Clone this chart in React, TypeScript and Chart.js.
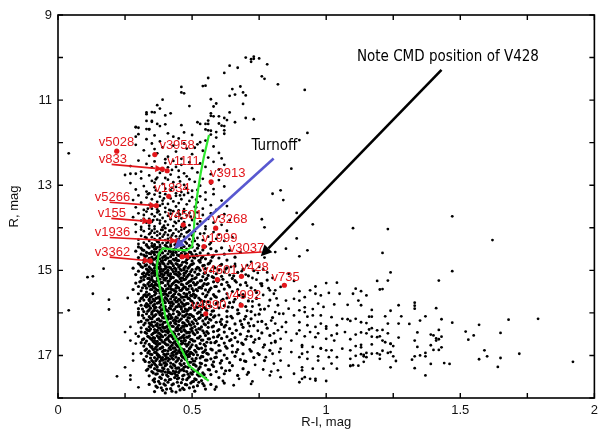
import React, { useEffect, useRef } from "react";
import { Chart, registerables } from "chart.js";

Chart.register(...registerables);

// ---------- axes ----------
const xTickValues = [0, 0.5, 1, 1.5, 2];
const yTickValues = [9, 11, 13, 15, 17];
const xMinorTickValues = [0, 0.25, 0.5, 0.75, 1, 1.25, 1.5, 1.75, 2];
const yMinorTickValues = [9, 10, 11, 12, 13, 14, 15, 16, 17, 18];

// ---------- photometry: flat pairs [R-I, R, R-I, R, ...] ----------
const giantBranch = [
  .70,10.00, .72,10.10, .72,10.04, .73,9.98, .73,10.03, .75,10.02, .78,10.16, .64,10.19, .67,10.24, .62,10.36,
  .76,10.44, .77,10.50, .82,10.63, .56,10.48, .54,10.67, .55,10.66, .65,10.74, .68,10.68, .46,10.69, .46,10.82,
  .47,10.84, .64,10.90, .66,10.87, .69,10.82, .70,10.89, .57,10.98, .39,10.99, .59,11.08, .69,11.09, .37,11.12,
  .58,11.15, .49,11.14, .38,11.20, .33,11.29, .35,11.28, .33,11.33, .36,11.29, .42,11.31, .40,11.36, .57,11.31,
  .57,11.37, .58,11.38, .60,11.38, .64,11.29, .62,11.42, .63,11.47, .70,11.42, .73,11.45, .33,11.49, .35,11.49,
  .35,11.51, .52,11.52, .53,11.56, .55,11.56, .56,11.48, .56,11.56, .37,11.56, .40,11.57, .46,11.59, .60,11.55,
  .66,11.52, .29,11.64, .30,11.65, .33,11.68, .34,11.69, .34,11.68, .38,11.61, .61,11.60, .62,11.61, .62,11.71,
  .55,11.69, .56,11.71, .57,11.72, .59,11.75, .92,10.76, .93,11.77, .90,11.94, .29,11.86, .29,11.63,
];

const subgiantBranch = [
  .30,11.80, .36,11.83, .41,11.78, .45,11.90, .50,11.82, .55,11.95, .59,11.88, .62,11.79, .38,11.97, .33,11.92, .47,11.76, .53,11.99, .57,11.81, .43,11.86,
  .29,12.05, .32,12.18, .35,12.02, .37,12.25, .39,12.11, .41,12.33, .43,12.07, .44,12.21, .46,12.38, .48,12.14, .50,12.27, .52,12.04,
  .54,12.19, .56,12.35, .58,12.09, .60,12.24, .61,12.37, .34,12.31, .40,12.39, .47,12.02, .51,12.12, .36,12.15,
  .27,12.55, .30,12.42, .31,12.68, .33,12.50, .34,12.77, .36,12.44, .37,12.62, .38,12.71, .40,12.48, .41,12.58, .42,12.75, .43,12.43,
  .45,12.66, .46,12.52, .48,12.79, .49,12.46, .50,12.60, .52,12.70, .53,12.49, .55,12.57, .57,12.74, .58,12.45, .60,12.63, .62,12.52,
  .35,12.58, .39,12.66, .44,12.57, .47,12.72,
  .27,12.95, .29,13.10, .31,12.84, .32,13.02, .33,13.15, .35,12.90, .36,13.05, .37,12.82, .38,13.18, .39,12.97, .40,13.08, .41,12.87,
  .42,13.12, .43,12.93, .44,13.04, .45,12.81, .46,13.16, .47,12.99, .48,13.07, .49,12.86, .50,13.13, .51,12.92, .53,13.01, .54,12.85,
  .55,13.17, .57,12.96, .58,13.09, .60,12.88, .62,13.03, .34,13.19, .36,12.94, .40,12.83, .44,13.19, .52,13.11,
  .28,13.35, .29,13.52, .30,13.24, .31,13.41, .32,13.58, .33,13.29, .34,13.46, .35,13.33, .35,13.55, .36,13.22, .37,13.39, .37,13.57,
  .38,13.27, .38,13.48, .39,13.36, .40,13.53, .40,13.21, .41,13.44, .42,13.31, .42,13.59, .43,13.38, .44,13.25, .44,13.50, .45,13.42,
  .46,13.33, .47,13.56, .47,13.23, .48,13.45, .49,13.37, .50,13.28, .51,13.51, .52,13.40, .53,13.26, .54,13.55, .55,13.34, .57,13.47,
  .58,13.21, .59,13.58, .61,13.36, .63,13.49, .45,13.59, .39,13.44,
  .28,13.75, .29,13.92, .30,13.66, .31,13.83, .31,13.98, .32,13.70, .33,13.88, .33,13.62, .34,13.79, .34,13.95, .35,13.68, .35,13.86,
  .36,13.73, .36,13.97, .37,13.64, .37,13.81, .38,13.90, .38,13.69, .39,13.77, .39,13.99, .40,13.63, .40,13.85, .41,13.72, .41,13.93,
  .42,13.67, .42,13.80, .43,13.96, .43,13.61, .44,13.74, .44,13.89, .45,13.66, .45,13.84, .46,13.78, .46,13.98, .47,13.62, .47,13.87,
  .48,13.71, .49,13.94, .49,13.65, .50,13.82, .51,13.76, .52,13.91, .52,13.64, .53,13.85, .54,13.70, .55,13.97, .56,13.79, .57,13.66,
  .58,13.88, .60,13.74, .61,13.93, .62,13.68, .64,13.82, .32,13.79, .38,13.83,
  .29,14.10, .30,14.28, .31,14.04, .31,14.19, .32,14.35, .32,14.08, .33,14.24, .33,14.39, .34,14.02, .34,14.15, .34,14.31, .35,14.07,
  .35,14.22, .35,14.37, .36,14.12, .36,14.27, .36,14.03, .37,14.18, .37,14.33, .37,14.09, .38,14.25, .38,14.40, .38,14.14, .39,14.05,
  .39,14.21, .39,14.36, .40,14.11, .40,14.29, .40,14.01, .41,14.17, .41,14.34, .42,14.06, .42,14.23, .42,14.38, .43,14.13, .43,14.30,
  .44,14.04, .44,14.20, .44,14.36, .45,14.09, .45,14.26, .46,14.15, .46,14.32, .47,14.02, .47,14.21, .48,14.11, .48,14.37, .49,14.27,
  .49,14.06, .50,14.18, .50,14.33, .51,14.08, .52,14.24, .52,14.39, .53,14.14, .54,14.29, .55,14.03, .56,14.21, .57,14.35, .58,14.10,
  .59,14.26, .60,14.16, .62,14.31, .63,14.07, .65,14.22, .30,14.38, .36,14.39, .41,14.26, .46,14.05, .51,14.31,
];

const subgiantCore = [
  .335,13.55, .355,13.82, .375,13.61, .395,13.95, .415,13.58, .435,13.86, .455,13.69, .475,13.99, .495,13.74, .515,13.52,
  .345,14.12, .365,14.29, .385,14.05, .405,14.36, .425,14.18, .445,14.28, .465,14.41, .485,14.09, .505,14.25, .525,14.42,
  .545,14.13, .325,14.22, .355,14.45, .375,14.34, .395,14.16, .415,14.07, .435,14.40, .455,14.20, .475,14.33, .565,14.39,
  .335,13.21, .365,13.12, .395,13.31, .425,13.06, .455,13.24, .485,13.18, .515,13.34, .365,12.86, .425,12.64, .455,12.91,
];

const mainSequenceUpper = [
  .29,14.55, .30,14.45, .30,14.70, .31,14.62, .31,14.48, .32,14.76, .32,14.53, .33,14.41, .33,14.66, .33,14.58, .34,14.47, .34,14.72,
  .34,14.60, .35,14.43, .35,14.56, .35,14.69, .35,14.78, .36,14.50, .36,14.63, .36,14.74, .36,14.42, .37,14.57, .37,14.68, .37,14.46,
  .37,14.79, .38,14.52, .38,14.64, .38,14.73, .38,14.44, .39,14.59, .39,14.70, .39,14.49, .39,14.77, .40,14.54, .40,14.66, .40,14.41,
  .40,14.75, .41,14.61, .41,14.47, .41,14.71, .42,14.56, .42,14.68, .42,14.43, .42,14.79, .43,14.51, .43,14.64, .43,14.74, .44,14.46,
  .44,14.58, .44,14.72, .45,14.53, .45,14.65, .45,14.42, .45,14.77, .46,14.60, .46,14.48, .46,14.70, .47,14.55, .47,14.67, .47,14.44,
  .48,14.62, .48,14.75, .48,14.50, .49,14.57, .49,14.69, .50,14.45, .50,14.63, .50,14.78, .51,14.54, .51,14.71, .52,14.48, .52,14.66,
  .53,14.59, .53,14.76, .54,14.52, .54,14.68, .55,14.44, .55,14.73, .56,14.61, .57,14.49, .57,14.78, .58,14.65, .59,14.55, .60,14.71,
  .61,14.47, .62,14.62, .63,14.76, .64,14.53, .66,14.69, .68,14.58, .32,14.64, .36,14.57, .43,14.58, .49,14.42,
  .28,14.95, .29,15.10, .30,14.84, .30,15.02, .31,15.17, .31,14.91, .32,15.06, .32,14.82, .32,15.14, .33,14.97, .33,15.09, .33,14.87,
  .34,15.03, .34,15.19, .34,14.92, .35,14.81, .35,15.07, .35,14.99, .35,15.15, .36,14.88, .36,15.01, .36,15.12, .36,14.95, .37,14.84,
  .37,15.08, .37,15.18, .37,14.93, .38,15.04, .38,14.86, .38,15.13, .38,14.98, .39,15.10, .39,14.83, .39,15.02, .39,15.16, .40,14.90,
  .40,15.06, .40,14.96, .40,15.19, .41,14.85, .41,15.11, .41,15.00, .42,14.94, .42,15.08, .42,15.15, .42,14.82, .43,15.03, .43,14.89,
  .43,15.17, .44,14.97, .44,15.09, .44,14.84, .45,15.05, .45,15.14, .45,14.92, .46,15.00, .46,14.87, .46,15.18, .47,15.07, .47,14.95,
  .47,15.12, .48,14.83, .48,15.02, .48,15.16, .49,14.91, .49,15.09, .50,14.98, .50,15.13, .50,14.86, .51,15.04, .51,15.19, .52,14.93,
  .52,15.10, .53,14.81, .53,15.00, .54,15.15, .54,14.89, .55,15.06, .55,14.96, .56,15.12, .56,14.85, .57,15.02, .58,15.17, .58,14.92,
  .59,15.08, .60,14.99, .61,15.14, .61,14.86, .62,15.04, .63,14.94, .64,15.11, .65,15.19, .66,14.90, .67,15.05, .69,14.97, .71,15.13,
  .73,15.01, .34,15.11, .38,14.91, .41,15.05, .44,15.02, .47,14.99, .36,15.07,
  .28,15.45, .29,15.30, .30,15.55, .30,15.38, .31,15.25, .31,15.48, .32,15.34, .32,15.59, .32,15.22, .33,15.42, .33,15.51, .34,15.28,
  .34,15.37, .34,15.56, .35,15.45, .35,15.21, .35,15.33, .36,15.50, .36,15.27, .36,15.41, .36,15.58, .37,15.35, .37,15.24, .37,15.47,
  .38,15.53, .38,15.31, .38,15.40, .38,15.21, .39,15.44, .39,15.57, .39,15.29, .40,15.36, .40,15.49, .40,15.23, .40,15.55, .41,15.32,
  .41,15.43, .41,15.26, .42,15.52, .42,15.38, .42,15.20, .43,15.46, .43,15.30, .43,15.58, .44,15.35, .44,15.24, .44,15.50, .45,15.41,
  .45,15.28, .45,15.56, .46,15.33, .46,15.47, .47,15.22, .47,15.39, .47,15.54, .48,15.31, .48,15.45, .49,15.26, .49,15.52, .49,15.37,
  .50,15.43, .50,15.21, .51,15.34, .51,15.58, .52,15.48, .52,15.29, .53,15.40, .53,15.25, .54,15.55, .54,15.36, .55,15.46, .55,15.22,
  .56,15.31, .56,15.51, .57,15.42, .58,15.27, .58,15.57, .59,15.38, .60,15.49, .60,15.23, .61,15.33, .62,15.44, .63,15.55, .63,15.28,
  .64,15.39, .65,15.50, .66,15.24, .67,15.45, .68,15.34, .69,15.57, .70,15.29, .72,15.41, .74,15.52, .76,15.36, .78,15.23, .36,15.35,
  .39,15.48, .42,15.44, .46,15.25, .48,15.56, .44,15.42,
  .29,15.75, .30,15.90, .31,15.66, .31,15.82, .32,15.97, .32,15.70, .33,15.86, .33,15.62, .33,15.78, .34,15.93, .34,15.68, .34,15.84,
  .35,15.74, .35,15.99, .35,15.61, .36,15.88, .36,15.72, .36,15.80, .37,15.65, .37,15.95, .37,15.77, .38,15.87, .38,15.63, .38,15.73,
  .38,15.98, .39,15.81, .39,15.69, .39,15.92, .40,15.76, .40,15.64, .40,15.85, .41,15.96, .41,15.71, .41,15.60, .42,15.83, .42,15.90,
  .42,15.67, .43,15.79, .43,15.94, .43,15.62, .44,15.74, .44,15.86, .45,15.68, .45,15.99, .45,15.80, .46,15.63, .46,15.91, .46,15.75,
  .47,15.84, .47,15.70, .48,15.96, .48,15.61, .48,15.78, .49,15.89, .49,15.66, .50,15.82, .50,15.73, .51,15.93, .51,15.64, .52,15.77,
  .52,15.87, .53,15.69, .53,15.98, .54,15.80, .55,15.62, .55,15.90, .56,15.74, .57,15.85, .57,15.67, .58,15.95, .59,15.78, .59,15.63,
  .60,15.88, .61,15.71, .62,15.83, .63,15.65, .63,15.96, .64,15.76, .65,15.87, .66,15.68, .67,15.93, .68,15.79, .69,15.62, .70,15.85,
  .71,15.72, .72,15.97, .74,15.66, .75,15.81, .77,15.91, .79,15.70, .36,15.94, .40,15.91, .44,15.64, .47,15.97, .50,15.60, .53,15.84,
  .34,15.71, .42,15.76, .38,15.67, .46,15.86,
];

const mainSequenceLower = [
  .30,16.05, .31,16.20, .31,16.35, .32,16.12, .32,16.28, .33,16.02, .33,16.17, .33,16.38, .34,16.09, .34,16.24, .34,16.33, .35,16.14,
  .35,16.03, .35,16.29, .36,16.21, .36,16.39, .36,16.07, .37,16.16, .37,16.31, .37,16.25, .38,16.04, .38,16.19, .38,16.36, .39,16.11,
  .39,16.27, .39,16.01, .40,16.22, .40,16.34, .40,16.08, .41,16.15, .41,16.30, .41,16.39, .42,16.06, .42,16.23, .42,16.13, .43,16.32,
  .43,16.18, .43,16.02, .44,16.26, .44,16.10, .44,16.37, .45,16.20, .45,16.05, .45,16.29, .46,16.14, .46,16.35, .47,16.09, .47,16.24,
  .47,16.40, .48,16.17, .48,16.03, .48,16.30, .49,16.12, .49,16.26, .50,16.36, .50,16.07, .50,16.21, .51,16.15, .51,16.32, .52,16.01,
  .52,16.25, .53,16.11, .53,16.38, .54,16.19, .54,16.06, .55,16.28, .55,16.14, .56,16.34, .56,16.23, .57,16.04, .57,16.17, .58,16.31,
  .58,16.10, .59,16.22, .60,16.39, .60,16.05, .61,16.27, .61,16.15, .62,16.33, .63,16.09, .63,16.21, .64,16.37, .65,16.12, .66,16.26,
  .67,16.02, .68,16.19, .69,16.34, .70,16.08, .71,16.24, .72,16.14, .73,16.30, .75,16.03, .76,16.20, .78,16.36, .80,16.11, .35,16.22,
  .38,16.28, .41,16.09, .44,16.19, .47,16.32, .39,16.33, .45,16.38, .49,16.04,
  .30,16.55, .31,16.45, .31,16.70, .32,16.61, .32,16.78, .33,16.48, .33,16.66, .34,16.57, .34,16.42, .34,16.74, .35,16.51, .35,16.63,
  .35,16.79, .36,16.46, .36,16.59, .36,16.70, .37,16.41, .37,16.54, .37,16.67, .37,16.77, .38,16.49, .38,16.62, .38,16.72, .39,16.44,
  .39,16.56, .39,16.68, .39,16.80, .40,16.52, .40,16.64, .40,16.43, .41,16.75, .41,16.58, .41,16.47, .42,16.69, .42,16.53, .42,16.79,
  .43,16.61, .43,16.45, .43,16.71, .44,16.56, .44,16.66, .44,16.41, .45,16.50, .45,16.76, .45,16.62, .46,16.44, .46,16.58, .46,16.73,
  .47,16.52, .47,16.65, .47,16.40, .48,16.78, .48,16.57, .48,16.47, .49,16.69, .49,16.54, .50,16.63, .50,16.43, .50,16.75, .51,16.51,
  .51,16.66, .52,16.59, .52,16.46, .53,16.72, .53,16.55, .54,16.64, .54,16.42, .55,16.78, .55,16.53, .56,16.61, .56,16.48, .57,16.70,
  .58,16.57, .58,16.44, .59,16.67, .60,16.52, .60,16.76, .61,16.60, .62,16.45, .62,16.71, .63,16.56, .64,16.65, .65,16.48, .65,16.77,
  .66,16.58, .67,16.68, .68,16.50, .69,16.74, .70,16.62, .71,16.43, .72,16.55, .73,16.69, .75,16.60, .76,16.47, .77,16.75, .79,16.53,
  .81,16.66, .36,16.65, .40,16.72, .43,16.51, .46,16.66, .49,16.46, .38,16.57, .44,16.74, .41,16.62, .47,16.59,
  .31,16.95, .32,17.10, .33,16.85, .33,17.02, .34,17.16, .34,16.90, .35,16.98, .35,17.12, .35,16.82, .36,17.05, .36,16.93, .36,17.19,
  .37,16.87, .37,17.08, .37,16.99, .38,17.14, .38,16.84, .38,17.03, .39,16.91, .39,17.11, .39,16.81, .40,17.00, .40,17.17, .40,16.88,
  .41,17.06, .41,16.96, .41,17.13, .42,16.86, .42,17.01, .42,17.18, .43,16.92, .43,17.09, .43,16.83, .44,17.04, .44,16.97, .44,17.15,
  .45,16.89, .45,17.07, .45,16.80, .46,17.00, .46,17.12, .46,16.94, .47,16.86, .47,17.05, .47,17.19, .48,16.98, .48,16.91, .48,17.10,
  .49,16.84, .49,17.02, .49,17.16, .50,16.95, .50,17.08, .51,16.88, .51,17.13, .52,16.99, .52,16.82, .53,17.06, .53,17.18, .54,16.93,
  .54,17.03, .55,16.87, .55,17.11, .56,16.97, .57,17.08, .57,16.85, .58,17.15, .59,16.94, .59,17.04, .60,16.89, .61,17.12, .62,16.99,
  .63,16.83, .63,17.07, .64,17.17, .65,16.92, .66,17.02, .67,16.86, .68,17.10, .69,16.96, .70,17.14, .72,16.90, .73,17.05, .75,16.98,
  .77,17.12, .79,16.88, .37,16.96, .40,17.09, .43,17.00, .46,16.84, .49,16.97, .41,16.89, .44,16.87, .47,16.93, .39,17.05, .36,16.85,
  .33,17.35, .34,17.25, .34,17.48, .35,17.38, .35,17.22, .36,17.55, .36,17.31, .37,17.43, .37,17.27, .38,17.51, .38,17.36, .38,17.21,
  .39,17.45, .39,17.29, .40,17.58, .40,17.39, .40,17.24, .41,17.49, .41,17.33, .42,17.42, .42,17.26, .42,17.56, .43,17.37, .43,17.21,
  .44,17.47, .44,17.30, .45,17.53, .45,17.40, .46,17.23, .46,17.34, .47,17.46, .47,17.28, .48,17.57, .48,17.38, .49,17.25, .49,17.50,
  .50,17.32, .50,17.44, .51,17.22, .51,17.55, .52,17.36, .53,17.27, .53,17.48, .54,17.41, .55,17.23, .55,17.53, .56,17.33, .57,17.45,
  .58,17.26, .59,17.38, .60,17.52, .61,17.29, .62,17.43, .64,17.35, .65,17.24, .67,17.47, .69,17.31, .71,17.40, .37,17.34, .41,17.40,
  .44,17.38, .47,17.36, .39,17.37, .45,17.29, .52,17.45,
  .34,17.68, .36,17.62, .37,17.75, .38,17.66, .39,17.82, .40,17.70, .41,17.63, .42,17.78, .43,17.67, .44,17.86, .45,17.72, .46,17.64,
  .47,17.80, .48,17.69, .49,17.76, .50,17.62, .51,17.84, .52,17.71, .54,17.66, .55,17.79, .57,17.68, .59,17.74, .62,17.65, .40,17.88,
  .36,17.85,
];

const mainSequenceCore = [
  .315,14.52, .325,14.67, .335,14.45, .345,14.61, .355,14.74, .365,14.49, .375,14.83, .385,14.57, .395,14.68, .405,14.44, .415,14.79, .425,14.62,
  .435,14.51, .445,14.86, .455,14.66, .465,14.53, .475,14.91, .485,14.72, .495,14.58, .505,14.84, .515,14.63, .525,14.95, .535,14.71, .545,14.88,
  .325,14.89, .335,14.78, .345,14.96, .355,14.58, .365,14.92, .375,14.65, .385,14.97, .395,14.85, .405,14.93, .415,14.55, .425,14.98, .435,14.76,
  .445,14.64, .455,14.89, .465,14.81, .475,14.61, .485,14.95, .495,14.87, .505,14.69, .515,14.97, .525,14.77, .355,14.86, .365,14.71, .375,14.94,
  .385,14.79, .395,14.98, .405,14.71, .415,14.93, .425,14.84, .435,14.95, .445,14.77, .455,14.97, .465,14.68, .475,14.80, .345,14.83, .335,14.99,
  .315,14.93, .305,14.86, .565,14.83, .585,14.94, .605,14.88, .625,14.97, .575,14.69,
  .305,15.27, .315,15.08, .325,15.36, .335,15.19, .345,15.45, .355,15.04, .365,15.31, .375,15.13, .385,15.42, .395,15.22, .405,15.05, .415,15.37,
  .425,15.16, .435,15.48, .445,15.26, .455,15.09, .465,15.34, .475,15.21, .485,15.44, .495,15.03, .505,15.29, .515,15.17, .525,15.41, .535,15.24,
  .545,15.07, .555,15.33, .565,15.46, .575,15.15, .585,15.38, .595,15.27, .315,15.41, .325,15.14, .335,15.32, .345,15.23, .355,15.39, .365,15.07,
  .375,15.47, .385,15.28, .395,15.11, .405,15.44, .415,15.25, .425,15.33, .435,15.08, .445,15.39, .455,15.47, .465,15.18, .475,15.40, .485,15.12,
  .495,15.36, .505,15.48, .515,15.33, .525,15.09, .535,15.42, .545,15.31, .555,15.19, .335,15.05, .355,15.26, .375,15.36, .395,15.49, .415,15.12,
  .435,15.27, .455,15.20, .475,15.06, .495,15.25, .515,15.45, .345,15.36, .365,15.44, .385,15.08, .405,15.18, .425,15.45, .445,15.11, .465,15.43,
  .485,15.29, .615,15.21, .635,15.35, .655,15.13,
  .305,15.72, .315,15.91, .325,15.57, .335,15.81, .345,15.63, .355,15.95, .365,15.54, .375,15.76, .385,15.59, .395,15.88, .405,15.67, .415,15.53,
  .425,15.84, .435,15.69, .445,15.97, .455,15.58, .465,15.79, .475,15.62, .485,15.93, .495,15.71, .505,15.55, .515,15.86, .525,15.65, .535,15.92,
  .545,15.73, .555,15.58, .565,15.83, .575,15.96, .585,15.61, .595,15.75, .315,15.64, .325,15.83, .335,15.96, .345,15.77, .355,15.68, .365,15.87,
  .375,15.99, .385,15.81, .395,15.56, .405,15.94, .415,15.76, .425,15.61, .435,15.91, .445,15.73, .455,15.85, .465,15.97, .475,15.80, .485,15.66,
  .495,15.89, .505,15.77, .515,15.60, .525,15.98, .535,15.71, .545,15.87, .555,15.94, .335,15.58, .355,15.83, .375,15.63, .395,15.71, .415,15.89,
  .435,15.55, .455,15.70, .475,15.91, .495,15.59, .345,15.89, .365,15.66, .385,15.93, .405,15.57, .425,15.74, .445,15.85, .465,15.63, .485,15.78,
  .615,15.68, .635,15.86, .655,15.74, .675,15.59,
  .315,16.06, .325,16.24, .335,16.41, .345,16.13, .355,16.32, .365,16.04, .375,16.47, .385,16.19, .395,16.36, .405,16.08, .415,16.27, .425,16.45,
  .435,16.16, .445,16.34, .455,16.02, .465,16.23, .475,16.43, .485,16.11, .495,16.29, .505,16.48, .515,16.18, .525,16.37, .535,16.05, .545,16.26,
  .555,16.44, .565,16.15, .575,16.33, .585,16.07, .595,16.42, .605,16.21, .325,16.46, .335,16.17, .345,16.38, .355,16.09, .365,16.29, .375,16.14,
  .385,16.41, .395,16.22, .405,16.44, .415,16.03, .425,16.31, .435,16.49, .445,16.12, .455,16.39, .465,16.07, .475,16.28, .485,16.46, .495,16.04,
  .505,16.25, .515,16.40, .525,16.13, .535,16.33, .545,16.47, .555,16.10, .345,16.27, .365,16.45, .385,16.06, .405,16.33, .425,16.11, .445,16.42,
  .465,16.31, .485,16.20, .505,16.09, .355,16.48, .375,16.35, .395,16.12, .415,16.43, .435,16.24, .455,16.17, .475,16.06, .495,16.38, .625,16.29,
  .645,16.08, .665,16.41, .685,16.27,
  .315,16.63, .325,16.88, .335,16.55, .345,16.79, .355,16.67, .365,16.93, .375,16.58, .385,16.82, .395,16.69, .405,16.97, .415,16.54, .425,16.76,
  .435,16.91, .445,16.62, .455,16.85, .465,16.71, .475,16.96, .485,16.57, .495,16.80, .505,16.66, .515,16.92, .525,16.59, .535,16.83, .545,16.74,
  .555,16.95, .565,16.61, .575,16.87, .585,16.70, .595,16.56, .605,16.89, .335,16.94, .345,16.60, .355,16.86, .365,16.72, .375,16.99, .385,16.64,
  .395,16.88, .405,16.75, .415,16.83, .425,16.56, .435,16.68, .445,16.94, .455,16.59, .465,16.87, .475,16.73, .485,16.90, .495,16.62, .505,16.98,
  .515,16.77, .525,16.84, .535,16.64, .545,16.91, .555,16.69, .325,16.71, .345,16.97, .365,16.81, .385,16.53, .405,16.61, .425,16.95, .445,16.78,
  .465,16.55, .485,16.74, .355,16.58, .375,16.73, .395,16.97, .415,16.66, .435,16.82, .455,16.93, .475,16.65, .495,16.93, .625,16.79, .645,16.63,
  .665,16.92, .685,16.71,
  .325,17.14, .335,17.32, .345,17.06, .355,17.41, .365,17.23, .375,17.03, .385,17.37, .395,17.18, .405,17.46, .415,17.09, .425,17.29, .435,17.42,
  .445,17.12, .455,17.35, .465,17.04, .475,17.26, .485,17.44, .495,17.16, .505,17.38, .515,17.07, .525,17.31, .535,17.19, .545,17.45, .555,17.11,
  .565,17.34, .575,17.22, .585,17.05, .345,17.27, .355,17.15, .365,17.44, .375,17.36, .385,17.08, .395,17.31, .405,17.21, .415,17.39, .425,17.06,
  .435,17.24, .445,17.47, .455,17.19, .465,17.33, .475,17.09, .485,17.28, .495,17.41, .505,17.13, .515,17.25, .525,17.48, .535,17.02, .365,17.12,
  .385,17.22, .405,17.05, .425,17.43, .445,17.30, .465,17.48, .485,17.03, .505,17.21, .605,17.18, .625,17.36,
  .355,17.58, .365,17.72, .375,17.61, .385,17.54, .395,17.67, .405,17.79, .415,17.57, .425,17.69, .435,17.52, .445,17.63, .455,17.81, .465,17.56,
  .475,17.68, .485,17.53, .495,17.65, .505,17.74, .515,17.57, .525,17.63, .535,17.59, .545,17.71, .385,17.76, .425,17.84, .465,17.77, .505,17.61,
  .445,17.55,
];

const redFringe = [
  .645,14.92, .685,15.02, .705,14.88, .725,15.18, .745,15.06, .765,14.98, .665,15.28, .705,15.36, .735,15.47, .755,15.31, .785,15.42, .805,15.55,
  .695,15.62, .725,15.73, .765,15.58, .785,15.84, .815,15.66, .705,15.95, .735,16.05, .755,15.92, .795,16.18, .825,16.02, .695,16.15, .715,16.31,
  .745,16.42, .775,16.27, .805,16.48, .835,16.33, .705,16.55, .735,16.63, .765,16.81, .795,16.71, .825,16.92, .715,16.86, .745,16.95, .775,17.04,
  .805,17.19, .735,17.22, .765,17.33, .705,17.45, .795,17.38, .675,17.55, .725,17.61, .655,17.70, .615,17.60, .585,17.80, .695,17.13, .745,16.21,
  .675,16.01, .725,15.85,
];

const fieldStars = [
  1.10,14.01, 1.23,14.03, 1.47,13.73, 1.62,14.29, 1.21,14.59, 1.47,15.02, 1.24,15.05, 1.19,15.25, 1.23,15.24, 1.42,15.24,
  1.20,15.45, 1.21,15.44, 1.11,15.43, 1.10,15.55, 1.13,15.49, 1.15,15.59, 1.12,15.71, 1.13,15.82, 1.33,15.76, 1.33,15.83,
  1.33,15.90, 1.27,15.82, 1.41,15.89, 1.17,15.93, 1.24,15.95, 1.08,16.15, 1.11,16.14, 1.16,16.09, 1.17,16.09, 1.22,16.08,
  1.28,16.08, 1.37,16.08, 1.35,16.18, 1.43,16.15, 1.68,16.16, 1.79,16.14, 1.13,16.22, 1.15,16.24, 1.23,16.25, 1.27,16.25,
  1.31,16.26, 1.47,16.23, 1.57,16.28, 1.16,16.39, 1.17,16.36, 1.19,16.41, 1.21,16.40, 1.23,16.48, 1.09,16.62, 1.11,16.51,
  1.13,16.46, 1.15,16.48, 1.17,16.56, 1.19,16.57, 1.20,16.55, 1.21,16.65, 1.22,16.69, 1.24,16.72, 1.27,16.58, 1.34,16.46,
  1.39,16.51, 1.40,16.53, 1.41,16.60, 1.41,16.65, 1.42,16.62, 1.42,16.40, 1.43,16.56, 1.52,16.44, 1.55,16.53, 1.53,16.63,
  1.65,16.47, 1.33,16.65, 1.11,16.78, 1.13,16.75, 1.13,16.81, 1.17,16.74, 1.24,16.73, 1.25,16.78, 1.34,16.80, 1.39,16.76,
  1.43,16.81, 1.40,16.87, 1.42,16.87, 1.11,17.01, 1.13,16.97, 1.14,17.02, 1.14,16.99, 1.15,17.04, 1.15,16.94, 1.17,16.96,
  1.19,16.95, 1.20,16.98, 1.21,16.89, 1.23,16.94, 1.24,16.92, 1.25,17.02, 1.33,17.02, 1.35,17.00, 1.37,16.94, 1.37,17.02,
  1.59,16.88, 1.60,17.02, 1.65,17.06, 1.72,16.96, 1.57,17.09, 1.20,17.08, 1.26,17.13, 1.32,17.10, 1.14,17.15, 1.09,17.25,
  1.10,17.23, 1.12,17.24, 1.24,17.28, 1.33,17.30, 1.39,17.20, 1.44,17.18, 1.46,17.20, 1.64,17.27, 1.92,17.15, 1.37,17.47,
  1.00,15.30, 1.04,15.29, .96,15.38, .94,15.47, 1.01,15.53, 1.05,15.55, 1.08,15.81, 1.03,15.80, .88,15.67, .90,15.71,
  .92,15.63, .97,15.78, .99,15.86, .85,15.71, .82,15.82, .86,15.90, .81,15.47, .83,15.39, .79,15.47, .76,15.31,
  .81,15.98, .84,16.02, .88,16.06, .92,15.98, .95,16.06, .98,16.06, 1.02,16.10, 1.06,16.14, 1.09,16.19, .85,16.22,
  .90,16.22, .81,16.25, .93,16.29, .96,16.33, 1.00,16.37, 1.04,16.29, 1.04,16.49, 1.07,16.45, .82,16.41, .85,16.45,
  .89,16.49, .92,16.55, .96,16.57, 1.00,16.61, 1.03,16.65, .83,16.61, .87,16.65, .81,16.69, .91,16.76, .95,16.80,
  .98,16.84, 1.02,16.88, 1.06,16.84, 1.09,16.88, .83,16.84, .87,16.92, .80,16.96, .90,17.04, .93,17.08, .97,17.12,
  1.01,17.04, 1.04,17.04, 1.09,17.08, .83,17.12, .86,17.24, .91,17.28, .95,17.31, .99,17.31, 1.04,17.31, 1.09,17.24,
  .82,17.35, .88,17.43, .92,17.51, .96,17.55, 1.00,17.60, .90,17.63, .72,17.67, .83,17.51, .79,17.47,
  .93,14.53, .96,15.55, .90,15.49, .98,15.59, .90,15.94, .92,15.87, .95,15.91, .93,16.09, .90,16.41, .94,16.45,
  .97,16.48, .98,16.25, 1.00,16.32, 1.02,16.53, .91,16.80, .93,16.92, .91,16.96, .97,17.02, .98,16.83, 1.00,16.88,
  1.02,17.19, .91,17.35, .91,17.55, .94,17.55, .96,17.59,
  .87,12.61, .80,13.20, .83,13.12, .84,13.35, .89,13.65, .76,13.80, .95,13.92, .77,13.99, .89,14.25, .85,14.49,
  .81,14.57, .90,14.67, .72,14.80, .75,14.92, .78,15.05, .70,15.10, .74,15.22, .80,15.18, .86,15.08, .88,15.25,
  .77,14.70, .66,14.85,
  .04,12.25, .25,12.76, .27,12.73, .29,12.73, .17,14.96, .11,15.16, .13,15.14, .04,15.94, .13,15.55, .19,15.69,
  .19,15.92, .26,15.65, .25,16.45, .27,16.33, .27,16.65, .25,17.28, .22,17.49, .27,17.47, .27,17.57, .30,15.98,
  .30,16.02, .30,16.22, .29,16.49, .29,16.72, .28,16.96, .28,17.12, .30,17.75,
];

// ---------- isochrone (green) ----------
const isochroneX = [.563, .544, .532, .520, .510, .506, .500, .480, .430, .392, .376, .368, .370, .377, .389, .401, .420, .444, .469, .488, .519, .543, .562];
const isochroneR = [11.82, 12.33, 12.72, 13.20, 13.67, 14.14, 14.44, 14.53, 14.51, 14.48, 14.61, 14.92, 15.12, 15.31, 15.71, 16.10, 16.41, 16.65, 16.96, 17.24, 17.39, 17.51, 17.60];

// ---------- variable stars ----------
const variableNames = ["v5028", "v3958", "v833", "v1111", "v3913", "v1834", "v5266", "v155", "v4501", "v3268", "v1936", "v1999", "v3037", "v3362", "v4601", "v428", "v735", "v4992", "v4890"];
const variableX = [.219, .361, .389, .407, .571, .413, .367, .341, .467, .588, .444, .544, .463, .344, .594, .684, .844, .683, .551];
const variableR = [12.20, 12.28, 12.62, 12.66, 12.92, 13.26, 13.48, 13.85, 13.93, 14.01, 14.31, 14.44, 14.68, 14.78, 15.22, 15.14, 15.35, 15.82, 16.02];
const labelX = [.152, .378, .152, .407, .567, .359, .137, .148, .407, .574, .137, .537, .637, .137, .537, .681, .796, .626, .496];
const labelR = [11.99, 12.07, 12.40, 12.44, 12.72, 13.07, 13.29, 13.66, 13.71, 13.80, 14.11, 14.25, 14.48, 14.58, 15.00, 14.94, 15.16, 15.59, 15.82];

// red arrows: from tail to the variable star
const arrowNames = ["v833", "v5266", "v155", "v1936", "v3037", "v3362"];
const arrowTailX = [.200, .193, .199, .193, .760, .193];
const arrowTailR = [12.51, 13.40, 13.78, 14.23, 14.57, 14.69];

// annotations
const turnoffText = "Turnoff";
const turnoffTextPos = [0.807, 12.08];
const turnoffArrow = [0.804, 12.37, 0.433, 14.49];
const noteText = "Note CMD position of V428";
const noteTextPos = [1.454, 10.0];
const noteArrow = [1.430, 10.29, 0.756, 14.67];

const RED = "#e3161b";
const GREEN = "#2fe82f";
const BLUE = "#5858d0";
const LABEL_FONT = '"Liberation Sans", Arial, sans-serif';

const toPoints = (a: number[]) => {
  const out: { x: number; y: number }[] = [];
  for (let i = 0; i + 1 < a.length; i += 2) out.push({ x: a[i], y: a[i + 1] });
  return out;
};

function drawArrow(ctx: CanvasRenderingContext2D, x1: number, y1: number, x2: number, y2: number, color: string, width: number, headLen: number, headHalf: number) {
  const ang = Math.atan2(y2 - y1, x2 - x1);
  const bx = x2 - headLen * Math.cos(ang);
  const by = y2 - headLen * Math.sin(ang);
  ctx.strokeStyle = color;
  ctx.fillStyle = color;
  ctx.lineWidth = width;
  ctx.lineCap = "butt";
  ctx.beginPath();
  ctx.moveTo(x1, y1);
  ctx.lineTo(bx, by);
  ctx.stroke();
  ctx.beginPath();
  ctx.moveTo(x2, y2);
  ctx.lineTo(bx + headHalf * Math.sin(ang), by - headHalf * Math.cos(ang));
  ctx.lineTo(bx - headHalf * Math.sin(ang), by + headHalf * Math.cos(ang));
  ctx.closePath();
  ctx.fill();
}

const cmdPlugin = {
  id: "cmdAnnotations",
  afterDatasetsDraw(chart: any) {
    const { ctx } = chart;
    const xs = chart.scales.x;
    const ys = chart.scales.y;
    const px = (v: number) => xs.getPixelForValue(v);
    const py = (v: number) => ys.getPixelForValue(v);
    ctx.save();
    arrowNames.forEach((n, i) => {
      const k = variableNames.indexOf(n);
      drawArrow(ctx, px(arrowTailX[i]), py(arrowTailR[i]), px(variableX[k]), py(variableR[k]), RED, 1.6, 7, 3.5);
    });
    ctx.font = `13px ${LABEL_FONT}`;
    ctx.fillStyle = RED;
    ctx.textAlign = "left";
    ctx.textBaseline = "middle";
    variableNames.forEach((n, i) => ctx.fillText(n, px(labelX[i]), py(labelR[i])));
    drawArrow(ctx, px(turnoffArrow[0]), py(turnoffArrow[1]), px(turnoffArrow[2]), py(turnoffArrow[3]), BLUE, 2.6, 10, 5);
    drawArrow(ctx, px(noteArrow[0]), py(noteArrow[1]), px(noteArrow[2]), py(noteArrow[3]), "#000", 2.6, 11, 5.5);
    ctx.fillStyle = "#000";
    ctx.font = '15px "DejaVu Sans Condensed", "DejaVu Sans", sans-serif';
    ctx.textAlign = "center";
    ctx.fillText(turnoffText, px(turnoffTextPos[0]), py(turnoffTextPos[1]));
    ctx.fillText(noteText, px(noteTextPos[0]), py(noteTextPos[1]));
    ctx.restore();
  },
  afterDraw(chart: any) {
    const { ctx, chartArea } = chart;
    const xs = chart.scales.x;
    const ys = chart.scales.y;
    const { left, right, top, bottom } = chartArea;
    ctx.save();
    ctx.strokeStyle = "#000";
    ctx.lineWidth = 1.6;
    ctx.strokeRect(left, top, right - left, bottom - top);
    ctx.lineWidth = 1.4;
    ctx.beginPath();
    xMinorTickValues.forEach((v) => {
      const p = xs.getPixelForValue(v);
      ctx.moveTo(p, bottom); ctx.lineTo(p, bottom - 5);
      ctx.moveTo(p, top); ctx.lineTo(p, top + 5);
    });
    yMinorTickValues.forEach((v) => {
      const p = ys.getPixelForValue(v);
      ctx.moveTo(left, p); ctx.lineTo(left + 5, p);
      ctx.moveTo(right, p); ctx.lineTo(right - 5, p);
    });
    ctx.stroke();
    ctx.restore();
  },
};

export default function App() {
  const canvasRef = useRef<HTMLCanvasElement | null>(null);

  useEffect(() => {
    const canvas = canvasRef.current;
    if (!canvas) return;
    const starStyle = { backgroundColor: "#000", borderWidth: 0, pointRadius: 1.4, pointHoverRadius: 1.4, order: 3 };
    const denseStyle = { backgroundColor: "#000", borderWidth: 0, pointRadius: 1.6, pointHoverRadius: 1.6, order: 3 };
    const chart = new Chart(canvas, {
      type: "scatter",
      data: {
        datasets: [
          {
            label: "variables",
            data: variableX.map((x, i) => ({ x, y: variableR[i] })),
            backgroundColor: RED,
            borderWidth: 0,
            pointRadius: 2.6,
            order: 1,
          },
          {
            label: "isochrone",
            data: isochroneX.map((x, i) => ({ x, y: isochroneR[i] })),
            showLine: true,
            borderColor: GREEN,
            borderWidth: 2.2,
            pointRadius: 0,
            tension: 0,
            order: 2,
          },
          { label: "giants", data: toPoints(giantBranch), ...starStyle },
          { label: "subgiants", data: toPoints(subgiantBranch), ...starStyle },
          { label: "subgiant core", data: toPoints(subgiantCore), ...starStyle },
          { label: "ms upper", data: toPoints(mainSequenceUpper), ...denseStyle },
          { label: "ms lower", data: toPoints(mainSequenceLower), ...denseStyle },
          { label: "ms core", data: toPoints(mainSequenceCore), ...denseStyle },
          { label: "red fringe", data: toPoints(redFringe), ...starStyle },
          { label: "field", data: toPoints(fieldStars), ...starStyle },
        ],
      },
      options: {
        responsive: false,
        animation: false,
        events: [],
        layout: { padding: { top: 15, right: 4, bottom: 0, left: 0 } },
        plugins: { legend: { display: false }, tooltip: { enabled: false } },
        scales: {
          x: {
            type: "linear",
            min: 0,
            max: 2,
            afterBuildTicks: (s: any) => { s.ticks = xTickValues.map((v) => ({ value: v })); },
            afterFit: (s: any) => { s.height = 36; },
            grid: { display: false, drawTicks: false },
            border: { display: false },
            ticks: { padding: 5, color: "#111", font: { family: LABEL_FONT, size: 13 }, maxRotation: 0, autoSkip: false, callback: (v: any) => String(v) },
            title: { display: true, text: "R-I, mag", color: "#111", font: { family: LABEL_FONT, size: 13 }, padding: { top: 0, bottom: 4 } },
          },
          y: {
            type: "linear",
            min: 9,
            max: 18,
            reverse: true,
            afterBuildTicks: (s: any) => { s.ticks = yTickValues.map((v) => ({ value: v })); },
            afterFit: (s: any) => { s.width = 58; },
            grid: { display: false, drawTicks: false },
            border: { display: false },
            ticks: { padding: 6, color: "#111", font: { family: LABEL_FONT, size: 13 }, autoSkip: false, callback: (v: any) => String(v) },
            title: { display: true, text: "R, mag", color: "#111", font: { family: LABEL_FONT, size: 13 }, padding: { top: 7, bottom: 0 } },
          },
        },
      },
      plugins: [cmdPlugin],
    } as any);
    return () => chart.destroy();
  }, []);

  return (
    <div style={{ position: "fixed", left: 0, top: 0, width: 603, height: 434, background: "#fff" }}>
      <canvas ref={canvasRef} width={603} height={434} style={{ display: "block" }} />
    </div>
  );
}
